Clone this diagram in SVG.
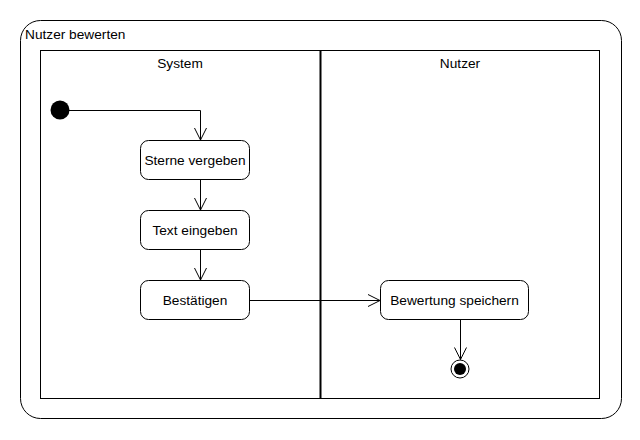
<svg xmlns="http://www.w3.org/2000/svg" width="640" height="440" viewBox="0 0 640 440">
<style>
text{font-family:"Liberation Sans",Arial,sans-serif;font-size:13.7px;fill:#000}
.c{text-anchor:middle}
.box{fill:#fff;stroke:#000;stroke-width:1}
.ln{fill:none;stroke:#000;stroke-width:1}
</style>
<defs>
<marker id="open" markerUnits="userSpaceOnUse" markerWidth="16" markerHeight="16" viewBox="-14 -8 16 16" refX="0" refY="0" orient="auto">
<path d="M-12,-6 L0,0 L-12,6" fill="none" stroke="#000" stroke-width="1"/>
</marker>
</defs>
<rect width="640" height="440" fill="#fff"/>
<g id="frame">
<rect x="20.5" y="20.5" width="601" height="398" rx="20" ry="20" class="ln"/>
<text x="25" y="38.5">Nutzer bewerten</text>
</g>
<g id="lane-system">
<rect x="40.5" y="50.5" width="280" height="348" class="ln"/>
<text x="180" y="68" class="c">System</text>
</g>
<g id="lane-nutzer">
<rect x="320.5" y="50.5" width="279" height="348" class="ln"/>
<line x1="320.5" y1="50.5" x2="320.5" y2="398.5" stroke="#000" stroke-width="2"/>
<text x="460" y="68" class="c">Nutzer</text>
</g>
<g id="start">
<circle cx="60" cy="110" r="9.5" fill="#000"/>
</g>
<g id="sterne">
<rect x="140.5" y="140.5" width="109" height="39" rx="8" class="box"/>
<text x="195" y="165" class="c">Sterne vergeben</text>
</g>
<g id="text">
<rect x="140.5" y="210.5" width="109" height="39" rx="8" class="box"/>
<text x="195" y="235" class="c">Text eingeben</text>
</g>
<g id="bestaetigen">
<rect x="140.5" y="280.5" width="109" height="39" rx="8" class="box"/>
<text x="195" y="305" class="c">Bestätigen</text>
</g>
<g id="speichern">
<rect x="380.5" y="280.5" width="148" height="39" rx="8" class="box"/>
<text x="454.5" y="305" class="c">Bewertung speichern</text>
</g>
<g id="end">
<circle cx="460" cy="369" r="9" fill="#fff" stroke="#000" stroke-width="1"/>
<circle cx="460" cy="369" r="6" fill="#000"/>
</g>
<g id="connectors">
<path d="M69,110.5 H200.5 V140" class="ln" marker-end="url(#open)"/>
<path d="M200.5,180 V210" class="ln" marker-end="url(#open)"/>
<path d="M200.5,250 V280" class="ln" marker-end="url(#open)"/>
<path d="M250,300.5 H380" class="ln" marker-end="url(#open)"/>
<path d="M460.5,320 V359.5" class="ln" marker-end="url(#open)"/>
</g>
</svg>
